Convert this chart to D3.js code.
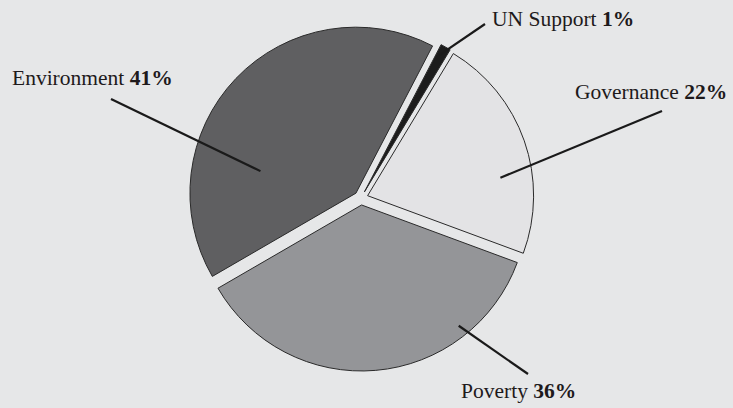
<!DOCTYPE html>
<html>
<head>
<meta charset="utf-8">
<script src="https://cdn.jsdelivr.net/npm/d3@7"></script>
<style>
  html, body { margin: 0; padding: 0; background: #e6e7e8; }
  svg { display: block; }
  text { font-family: "Liberation Serif", "Times New Roman", serif; fill: #1e1a1b; }
</style>
</head>
<body>
<svg id="chart" width="733" height="408"></svg>
<script>
// Funding share by programme area (percent), clockwise from the top
const categories = ["UN Support", "Governance", "Poverty", "Environment"];
const shares = [1, 22, 36, 41];
const valueLabels = ["1%", "22%", "36%", "41%"];

const fills = ["#1c1c1c", "#e3e3e5", "#949598", "#5f5f61"];

// Leader line placement per category: anchor inside the slice (angle in degrees,
// radius in px from the slice apex), outer end of the line, and label origin.
const leaderLayout = [
  { angle: 28.7, r: 156, end: [485, 24],  text: [492, 26] },
  { angle: 82.3, r: 134, end: [662, 111], text: [575, 99] },
  { angle: 141.2, r: 155, end: [528, 374], text: [461, 398] },
  { angle: 283,  r: 98,  end: [111, 99],  text: [12, 85] }
];

const width = 733, height = 408;
const cx = 361, cy = 198, radius = 166, explode = 7;
const deg = Math.PI / 180;

const svg = d3.select("#chart");
svg.append("rect").attr("width", width).attr("height", height).attr("fill", "#e6e7e8");

const pie = d3.pie().sort(null).value(d => d)
  .startAngle(27.5 * deg).endAngle(27.5 * deg + 2 * Math.PI);
const arcs = pie(shares);
const arc = d3.arc().innerRadius(0).outerRadius(radius);

// offset of each slice along its mid angle
function offset(a) {
  const mid = (a.startAngle + a.endAngle) / 2;
  return [explode * Math.sin(mid), -explode * Math.cos(mid)];
}

const g = svg.append("g").attr("transform", `translate(${cx},${cy})`);

g.selectAll("path.slice")
  .data(arcs)
  .join("path")
  .attr("class", "slice")
  .attr("transform", d => { const o = offset(d); return `translate(${o[0]},${o[1]})`; })
  .attr("d", arc)
  .attr("fill", (d, i) => fills[i])
  .attr("stroke", "#2a2a2a")
  .attr("stroke-width", 1)
  .attr("stroke-linejoin", "miter");

// leader lines
arcs.forEach((a, i) => {
  const L = leaderLayout[i];
  const o = offset(a);
  const x1 = cx + o[0] + L.r * Math.sin(L.angle * deg);
  const y1 = cy + o[1] - L.r * Math.cos(L.angle * deg);
  svg.append("line")
    .attr("x1", x1).attr("y1", y1)
    .attr("x2", L.end[0]).attr("y2", L.end[1])
    .attr("stroke", "#1a1a1a")
    .attr("stroke-width", 2.2);
});

// labels
categories.forEach((c, i) => {
  const L = leaderLayout[i];
  const t = svg.append("text")
    .attr("x", L.text[0]).attr("y", L.text[1])
    .attr("font-size", 21.5);
  t.append("tspan").text(c + " ");
  t.append("tspan").attr("font-weight", "bold").text(valueLabels[i]);
});
</script>
</body>
</html>
